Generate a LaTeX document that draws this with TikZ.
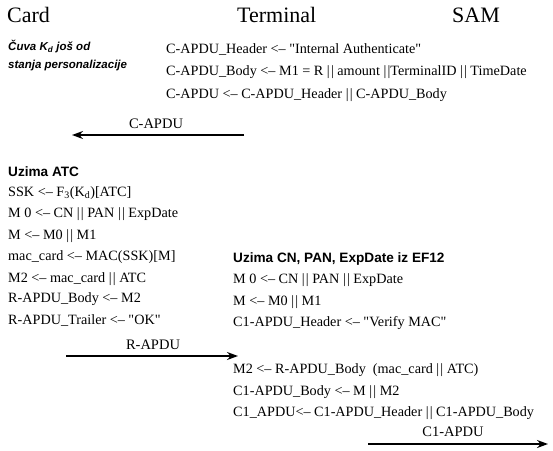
\documentclass[tikz,border=0pt]{standalone}
\usepackage{fontspec}
\setmainfont{Liberation Serif}
\setsansfont{Liberation Sans}
\usetikzlibrary{arrows.meta}
\newcommand{\bars}{|\kern1.2pt|}
\newcommand{\qq}{\textquotedbl}
\begin{document}
\begin{tikzpicture}[x=1pt,y=-1pt,
  txt/.style={anchor=west,inner sep=0pt,font=\fontsize{14.2}{16}\selectfont},
  hdr/.style={anchor=west,inner sep=0pt,font=\fontsize{22}{25}\selectfont},
  lbl/.style={anchor=west,inner sep=0pt,font=\sffamily\bfseries\fontsize{13.6}{16}\selectfont},
  note/.style={anchor=west,inner sep=0pt,font=\sffamily\bfseries\itshape\fontsize{11.5}{13}\selectfont},
  msg/.style={inner sep=0pt,font=\fontsize{14.5}{16}\selectfont},
  arr/.style={-{Stealth[length=11pt,width=8pt]},line width=1.6pt}]
\useasboundingbox (0,0) rectangle (553,450);
% headers
\node[hdr] (card) at (7,15) {Card};
\node[hdr] (term) at (237,15) {Terminal};
\node[hdr] (sam) at (452,15) {SAM};
% note
\node[note] (n1) at (8,47) {Čuva K\textsubscript{d} još od};
\node[note] (n2) at (8,66) {stanja personalizacije};
% terminal block 1
\node[txt] (t1) at (166,49) {C-APDU\_Header <-- \qq Internal Authenticate\qq};
\node[txt] (t2) at (166,72) {C-APDU\_Body <-- M1 = R \bars\ amount \bars TerminalID \bars\ TimeDate};
\node[txt] (t3) at (166,95) {C-APDU <-- C-APDU\_Header \bars\ C-APDU\_Body};
% arrow 1
\coordinate (a1s) at (244,135);
\coordinate (a1e) at (72,135);
\draw[arr] (a1s) -- (a1e);
\node[msg] (m1) at (156,124) {C-APDU};
% card block
\node[lbl] (c0) at (8,172) {Uzima ATC};
\node[txt] (c1) at (8,193) {SSK <-- F\textsubscript{3}(K\textsubscript{d})[ATC]};
\node[txt] (c2) at (8,214) {M 0 <-- CN \bars\ PAN \bars\ ExpDate};
\node[txt] (c3) at (8,236) {M <-- M0 \bars\ M1};
\node[txt] (c4) at (8,257) {mac\_card <-- MAC(SSK)[M]};
\node[txt] (c5) at (8,279) {M2 <-- mac\_card \bars\ ATC};
\node[txt] (c6) at (8,299) {R-APDU\_Body <-- M2};
\node[txt] (c7) at (8,320) {R-APDU\_Trailer <-- \qq OK\qq};
% arrow 2
\coordinate (a2s) at (66,356);
\coordinate (a2e) at (238,356);
\draw[arr] (a2s) -- (a2e);
\node[msg] (m2) at (153,345) {R-APDU};
% terminal block 2
\node[lbl] (d0) at (233,259) {Uzima CN, PAN, ExpDate iz EF12};
\node[txt] (d1) at (233,280) {M 0 <-- CN \bars\ PAN \bars\ ExpDate};
\node[txt] (d2) at (233,302) {M <-- M0 \bars\ M1};
\node[txt] (d3) at (233,323) {C1-APDU\_Header <-- \qq Verify MAC\qq};
\node[txt] (d4) at (233,370) {M2 <-- R-APDU\_Body~ (mac\_card \bars\ ATC)};
\node[txt] (d5) at (233,392) {C1-APDU\_Body <-- M \bars\ M2};
\node[txt] (d6) at (233,413) {C1\_APDU<-- C1-APDU\_Header \bars\ C1-APDU\_Body};
% arrow 3
\coordinate (a3s) at (368,444);
\coordinate (a3e) at (548,444);
\draw[arr] (a3s) -- (a3e);
\node[msg] (m3) at (453,432) {C1-APDU};
\end{tikzpicture}
\end{document}
